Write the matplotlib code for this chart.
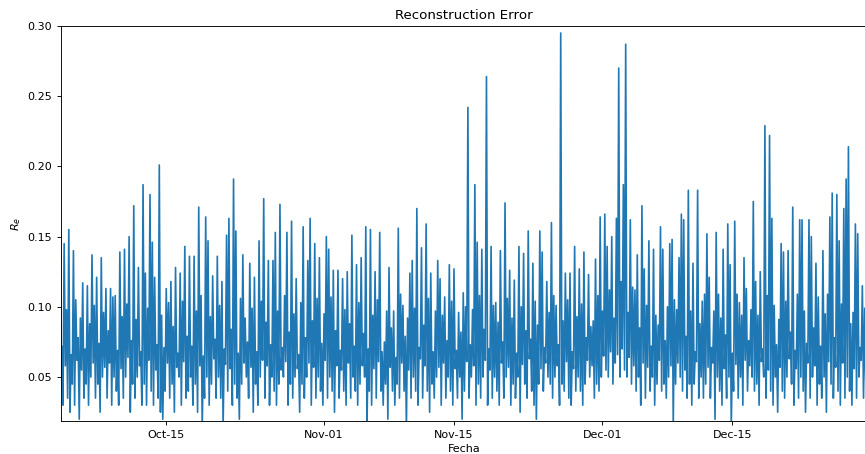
import matplotlib
matplotlib.use("Agg")
import matplotlib.pyplot as plt
import matplotlib.dates as mdates
import pandas as pd

# error de reconstruccion: la serie alterna maximos (picos) y minimos (valles)
# cada 3 horas, 4 picos y 4 valles por dia
inicio = "2021-10-03 12:00"
picos = [
    [0.36, 0.072, 0.145, 0.098], [0.155, 0.066, 0.140, 0.105], [0.078, 0.092, 0.117, 0.07],
    [0.115, 0.088, 0.137, 0.101], [0.121, 0.074, 0.135, 0.096], [0.113, 0.083, 0.113, 0.107],
    [0.108, 0.069, 0.139, 0.093], [0.141, 0.102, 0.150, 0.076], [0.172, 0.091, 0.128, 0.068],
    [0.187, 0.124, 0.099, 0.180], [0.146, 0.121, 0.073, 0.201], [0.094, 0.071, 0.113, 0.103],
    [0.118, 0.086, 0.128, 0.067], [0.124, 0.104, 0.143, 0.079], [0.136, 0.072, 0.136, 0.097],
    [0.171, 0.108, 0.065, 0.164], [0.147, 0.093, 0.122, 0.077], [0.136, 0.101, 0.118, 0.07],
    [0.151, 0.163, 0.084, 0.191], [0.154, 0.067, 0.106, 0.137], [0.092, 0.075, 0.131, 0.099],
    [0.121, 0.068, 0.147, 0.104], [0.177, 0.089, 0.133, 0.073], [0.133, 0.153, 0.097, 0.173],
    [0.071, 0.108, 0.153, 0.082], [0.161, 0.095, 0.120, 0.066], [0.103, 0.157, 0.078, 0.133],
    [0.163, 0.09, 0.145, 0.106], [0.135, 0.074, 0.095, 0.150], [0.141, 0.107, 0.126, 0.083],
    [0.126, 0.069, 0.120, 0.098], [0.125, 0.088, 0.151, 0.072], [0.130, 0.103, 0.135, 0.081],
    [0.157, 0.07, 0.155, 0.094], [0.125, 0.105, 0.153, 0.068], [0.075, 0.097, 0.128, 0.085],
    [0.097, 0.064, 0.156, 0.109], [0.101, 0.079, 0.092, 0.124], [0.133, 0.099, 0.170, 0.071],
    [0.142, 0.087, 0.159, 0.106], [0.124, 0.068, 0.097, 0.133], [0.120, 0.094, 0.107, 0.076],
    [0.130, 0.104, 0.127, 0.069], [0.096, 0.082, 0.110, 0.1], [0.242, 0.073, 0.098, 0.187],
    [0.146, 0.108, 0.141, 0.084], [0.264, 0.07, 0.143, 0.101], [0.103, 0.089, 0.140, 0.075],
    [0.174, 0.106, 0.126, 0.092], [0.119, 0.067, 0.143, 0.1], [0.138, 0.083, 0.154, 0.077],
    [0.131, 0.104, 0.087, 0.154], [0.139, 0.071, 0.118, 0.096], [0.160, 0.108, 0.101, 0.073],
    [0.295, 0.09, 0.124, 0.105], [0.124, 0.068, 0.143, 0.093], [0.127, 0.102, 0.139, 0.078],
    [0.123, 0.086, 0.090, 0.134], [0.108, 0.164, 0.097, 0.166], [0.143, 0.112, 0.150, 0.092],
    [0.163, 0.270, 0.118, 0.187], [0.287, 0.096, 0.162, 0.114], [0.112, 0.137, 0.085, 0.172],
    [0.127, 0.101, 0.147, 0.072], [0.141, 0.094, 0.087, 0.157], [0.141, 0.076, 0.100, 0.145],
    [0.148, 0.105, 0.098, 0.135], [0.166, 0.162, 0.079, 0.183], [0.097, 0.131, 0.068, 0.183],
    [0.088, 0.104, 0.109, 0.152], [0.121, 0.071, 0.097, 0.153], [0.109, 0.092, 0.141, 0.08],
    [0.159, 0.130, 0.067, 0.161], [0.109, 0.103, 0.094, 0.135], [0.113, 0.076, 0.098, 0.175],
    [0.118, 0.094, 0.125, 0.07], [0.229, 0.108, 0.222, 0.163], [0.101, 0.073, 0.091, 0.145],
    [0.139, 0.104, 0.140, 0.082], [0.171, 0.069, 0.109, 0.162], [0.162, 0.097, 0.074, 0.162],
    [0.150, 0.085, 0.131, 0.107], [0.072, 0.140, 0.095, 0.109], [0.164, 0.181, 0.078, 0.180],
    [0.147, 0.102, 0.170, 0.191], [0.214, 0.088, 0.096, 0.159], [0.152, 0.071, 0.115, 0.099],
    [0.159, 0.083],
]
valles = [
    [0.05, 0.03, 0.058, 0.035], [0.025, 0.045, 0.03, 0.062], [0.02, 0.055, 0.035, 0.045],
    [0.03, 0.05, 0.06, 0.035], [0.045, 0.025, 0.05, 0.057], [0.035, 0.06, 0.03, 0.05],
    [0.04, 0.03, 0.056, 0.035], [0.05, 0.064, 0.025, 0.045], [0.035, 0.05, 0.058, 0.03],
    [0.045, 0.03, 0.062, 0.04], [0.03, 0.055, 0.035, 0.025], [0.02, 0.04, 0.06, 0.035],
    [0.045, 0.025, 0.057, 0.05], [0.03, 0.061, 0.035, 0.04], [0.05, 0.03, 0.045, 0.025],
    [0.058, 0.015, 0.035, 0.05], [0.03, 0.045, 0.063, 0.035], [0.05, 0.035, 0.015, 0.059],
    [0.04, 0.056, 0.03, 0.045], [0.035, 0.02, 0.045, 0.06], [0.05, 0.035, 0.057, 0.025],
    [0.045, 0.03, 0.05, 0.062], [0.035, 0.058, 0.03, 0.05], [0.04, 0.03, 0.045, 0.055],
    [0.05, 0.061, 0.03, 0.045], [0.035, 0.05, 0.056, 0.025], [0.045, 0.035, 0.05, 0.06],
    [0.03, 0.057, 0.035, 0.05], [0.04, 0.03, 0.062, 0.035], [0.05, 0.04, 0.025, 0.058],
    [0.035, 0.055, 0.04, 0.03], [0.06, 0.035, 0.05, 0.04], [0.03, 0.045, 0.058, 0.05],
    [0.015, 0.04, 0.03, 0.056], [0.035, 0.061, 0.04, 0.03], [0.045, 0.02, 0.057, 0.04],
    [0.03, 0.045, 0.035, 0.06], [0.04, 0.015, 0.055, 0.035], [0.05, 0.04, 0.03, 0.063],
    [0.035, 0.058, 0.04, 0.025], [0.045, 0.035, 0.05, 0.057], [0.03, 0.06, 0.035, 0.05],
    [0.04, 0.03, 0.056, 0.035], [0.05, 0.02, 0.04, 0.061], [0.035, 0.05, 0.058, 0.03],
    [0.045, 0.035, 0.05, 0.062], [0.03, 0.055, 0.035, 0.05], [0.04, 0.03, 0.06, 0.035],
    [0.05, 0.057, 0.03, 0.045], [0.035, 0.05, 0.025, 0.059], [0.045, 0.035, 0.063, 0.04],
    [0.03, 0.02, 0.045, 0.056], [0.04, 0.06, 0.05, 0.045], [0.035, 0.05, 0.058, 0.03],
    [0.045, 0.04, 0.061, 0.035], [0.03, 0.056, 0.04, 0.05], [0.04, 0.03, 0.045, 0.062],
    [0.05, 0.058, 0.035, 0.045], [0.04, 0.05, 0.065, 0.055], [0.05, 0.068, 0.045, 0.06],
    [0.066, 0.05, 0.07, 0.055], [0.05, 0.064, 0.045, 0.058], [0.04, 0.05, 0.03, 0.06],
    [0.035, 0.057, 0.04, 0.05], [0.03, 0.045, 0.062, 0.04], [0.045, 0.035, 0.05, 0.058],
    [0.015, 0.045, 0.06, 0.05], [0.04, 0.055, 0.035, 0.045], [0.03, 0.045, 0.061, 0.035],
    [0.05, 0.035, 0.045, 0.057], [0.035, 0.06, 0.02, 0.05], [0.04, 0.03, 0.056, 0.035],
    [0.05, 0.015, 0.04, 0.059], [0.035, 0.05, 0.03, 0.062], [0.04, 0.058, 0.05, 0.04],
    [0.045, 0.03, 0.061, 0.05], [0.035, 0.055, 0.04, 0.03], [0.05, 0.025, 0.057, 0.04],
    [0.035, 0.05, 0.063, 0.045], [0.03, 0.056, 0.035, 0.05], [0.04, 0.025, 0.06, 0.035],
    [0.05, 0.058, 0.03, 0.045], [0.035, 0.05, 0.025, 0.061], [0.045, 0.035, 0.057, 0.04],
    [0.03, 0.06, 0.035, 0.05], [0.04, 0.03, 0.056, 0.035], [0.05, 0.062, 0.035, 0.045],
    [0.04, 0.05],
]

valores = []
for fila_p, fila_v in zip(picos, valles):
    for p, v in zip(fila_p, fila_v):
        valores += [p, v]
fechas = pd.date_range(inicio, periods=len(valores), freq="3h")
serie = pd.Series(valores, index=fechas)

plt.rcParams["font.size"] = 8
plt.rcParams["axes.linewidth"] = 0.65
plt.rcParams["xtick.major.size"] = 2.8
plt.rcParams["ytick.major.size"] = 2.8
plt.rcParams["xtick.major.width"] = 0.65
plt.rcParams["ytick.major.width"] = 0.65

fig = plt.figure(figsize=(8.65, 4.54), dpi=100)
ax = fig.add_axes([61 / 865, 33 / 454, 806 / 865, 395 / 454])
ax.plot(serie.index, serie.values, color="#1f77b4", linewidth=1.2)

ax.set_xlim(pd.Timestamp("2021-10-03 15:50"), pd.Timestamp("2021-12-29 12:00"))
ax.set_ylim(0.0187, 0.30)
ax.xaxis.set_major_locator(mdates.DayLocator(bymonthday=[1, 15]))
ax.xaxis.set_major_formatter(mdates.DateFormatter("%b-%d"))

ax.set_title("Reconstruction Error", fontsize=9.6, pad=4.8)
ax.set_xlabel("Fecha", labelpad=3.2)
ax.set_ylabel("$R_e$", labelpad=3.2)

fig.savefig("out.png", dpi=100)
